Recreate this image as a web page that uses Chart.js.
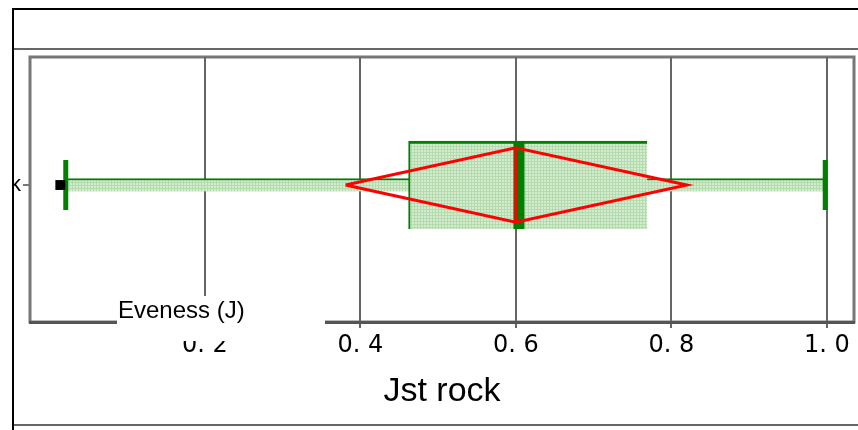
<!DOCTYPE html>
<html>
<head>
<meta charset="utf-8">
<script src="https://cdn.jsdelivr.net/npm/chart.js@4.4.0/dist/chart.umd.min.js"></script>
<style>
  html, body { margin: 0; padding: 0; background: #fff; }
  #frame { position: absolute; left: 12px; top: 8px; width: 846px; height: 422px;
           border-left: 2px solid #000; border-top: 2px solid #000; overflow: hidden; }
  .rule { position: absolute; left: 0; width: 846px; height: 2px; background: #666; }
  #chart { position: absolute; left: -74px; top: 40px; }
</style>
</head>
<body>
<div id="frame">
  <div class="rule" style="top:38px"></div>
  <canvas id="chart" width="918" height="375"></canvas>
  <div class="rule" style="top:414px"></div>
</div>
<script>
// values
const groupLabels = ['Jst rock'];
const axisTitle = 'Jst rock';
const legendLabel = 'Eveness (J)';
const xTickValues = [0.2, 0.4, 0.6, 0.8, 1.0];
const xTickLabels = ['0. 2', '0. 4', '0. 6', '0. 8', '1. 0'];

const whiskerLow = [0.021];
const quartile1 = [0.462];
const median = [0.604];
const quartile3 = [0.769];
const whiskerHigh = [0.998];
const meanValue = [0.600];
const ciLow = [0.381];
const ciHigh = [0.820];
const lowPoint = [0.014];

// styling
const GREEN = '#008000';
const RED = '#ff0000';
const DIAMOND_H = 0.29;

//Light green mesh fill like the original
function meshFill() {
  const c = document.createElement('canvas');
  c.width = 3; c.height = 3;
  const g = c.getContext('2d');
  g.fillStyle = '#d4ebd0';
  g.fillRect(0, 0, 3, 3);
  g.fillStyle = '#b3dbae';
  g.fillRect(0, 0, 3, 1);
  g.fillRect(0, 0, 1, 3);
  return document.getElementById('chart').getContext('2d').createPattern(c, 'repeat');
}
const fill = meshFill();

const framePlugin = {
  id: 'frame',
  beforeDraw(chart) {
    const a = chart.chartArea, ctx = chart.ctx;
    ctx.save();
    ctx.strokeStyle = '#777';
    ctx.lineWidth = 3;
    ctx.strokeRect(a.left, a.top, a.right - a.left, a.bottom - a.top);
    ctx.restore();
  }
};

const legendPlugin = {
  id: 'boxLegend',
  afterDraw(chart) {
    const a = chart.chartArea, ctx = chart.ctx;
    ctx.save();
    ctx.fillStyle = '#fff';
    ctx.fillRect(a.left + 87, a.bottom - 26, 208, 45);
    ctx.fillStyle = '#000';
    ctx.font = '24px "Liberation Sans", Arial, sans-serif';
    ctx.textBaseline = 'alphabetic';
    ctx.fillText(legendLabel, a.left + 88, a.bottom - 4);
    ctx.restore();
  }
};

const diamond = [];
ciLow.forEach(function (lo, i) {
  diamond.push({ x: lo, y: i }, { x: meanValue[i], y: i + DIAMOND_H },
               { x: ciHigh[i], y: i }, { x: meanValue[i], y: i - DIAMOND_H }, { x: lo, y: i });
});

new Chart(document.getElementById('chart'), {
  type: 'scatter',
  data: {
    datasets: [{
      type: 'scatter', order: 0,
      data: meanValue.map((v, i) => ({ x: v, y: i })),
      pointStyle: 'line', rotation: 90, radius: 37, borderWidth: 3,
      borderColor: RED, backgroundColor: RED
    }, {
      type: 'line', order: 1,
      data: diamond,
      borderColor: RED, borderWidth: 3, pointRadius: 0, tension: 0, fill: false
    }, {
      type: 'scatter', order: 2,
      data: lowPoint.map((v, i) => ({ x: v, y: i })),
      pointStyle: 'rect', radius: 7, borderWidth: 0, backgroundColor: '#000'
    }, {
      type: 'scatter', order: 3,
      data: whiskerLow.map((v, i) => ({ x: v, y: i })).concat(whiskerHigh.map((v, i) => ({ x: v, y: i }))),
      pointStyle: 'line', rotation: 90, radius: 25, borderWidth: 5,
      borderColor: GREEN, backgroundColor: GREEN
    }, {
      type: 'scatter', order: 4,
      data: median.map((v, i) => ({ x: v, y: i })),
      pointStyle: 'line', rotation: 90, radius: 44, borderWidth: 11,
      borderColor: GREEN, backgroundColor: GREEN
    }, {
      type: 'bar', indexAxis: 'y', grouped: false, order: 5,
      data: quartile1.map((v, i) => ({ x: [v, quartile3[i]], y: i })),
      barThickness: 88, backgroundColor: fill,
      borderColor: GREEN, borderWidth: { top: 3, left: 2, right: 0, bottom: 0 }, borderSkipped: false
    }, {
      type: 'bar', indexAxis: 'y', grouped: false, order: 6,
      data: whiskerLow.map((v, i) => ({ x: [v, whiskerHigh[i]], y: i })),
      barThickness: 13, backgroundColor: fill,
      borderColor: GREEN, borderWidth: { top: 2, left: 0, right: 0, bottom: 0 }, borderSkipped: false
    }]
  },
  options: {
    responsive: false,
    animation: false,
    events: [],
    layout: { autoPadding: false, padding: { top: 7, right: 4, left: 0, bottom: 0 } },
    plugins: { legend: { display: false }, tooltip: { enabled: false } },
    scales: {
      x: {
        type: 'linear', position: 'bottom', min: -0.025, max: 1.035, offset: false,
        afterBuildTicks: function (s) { s.ticks = xTickValues.map(v => ({ value: v })); },
        ticks: {
          callback: (v, i) => xTickLabels[i],
          font: { family: 'DejaVu Sans', size: 24 }, color: '#000',
          padding: 3, maxRotation: 0, autoSkip: false
        },
        grid: { color: '#666', lineWidth: 2, tickLength: 6, offset: false },
        border: { display: true, color: '#555', width: 3 },
        title: {
          display: true, text: axisTitle, color: '#000',
          font: { family: 'Liberation Sans', size: 34 }, padding: { top: 8, bottom: 13 }
        },
        afterFit: function (s) { s.height = 103; s.paddingLeft = 0; s.paddingRight = 0; }
      },
      y: {
        type: 'linear', position: 'left', min: -1.07, max: 1, offset: false,
        afterBuildTicks: function (s) { s.ticks = groupLabels.map((l, i) => ({ value: i })); },
        ticks: {
          callback: (v, i) => groupLabels[i],
          font: { family: 'Liberation Sans', size: 22 }, color: '#000',
          padding: 2, autoSkip: false
        },
        grid: { drawOnChartArea: false, color: '#777', lineWidth: 2, tickLength: 7, offset: false },
        border: { display: false },
        afterFit: function (s) { s.width = 90; s.paddingTop = 0; s.paddingBottom = 0; }
      }
    }
  },
  plugins: [framePlugin, legendPlugin]
});
</script>
</body>
</html>
